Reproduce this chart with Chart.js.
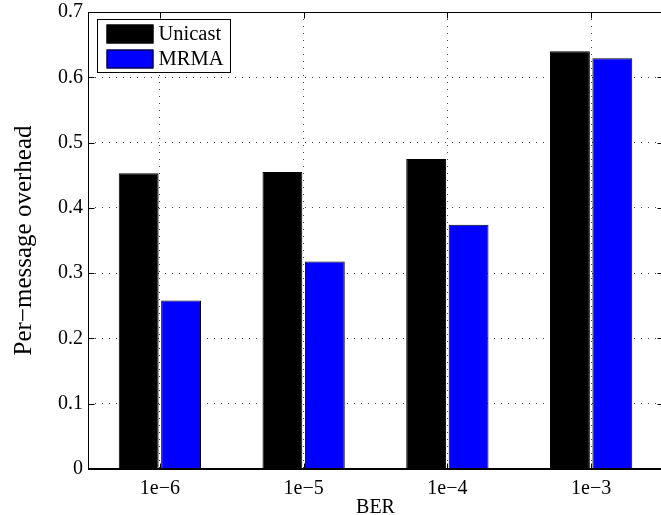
<!DOCTYPE html>
<html>
<head>
<meta charset="utf-8">
<script src="https://cdn.jsdelivr.net/npm/chart.js@4.4.0/dist/chart.umd.min.js"></script>
<style>
html, body { margin: 0; padding: 0; background: #fff; overflow: hidden; }
#wrap { width: 680px; height: 515px; }
</style>
</head>
<body>
<div id="wrap"><canvas id="grafico" width="680" height="515"></canvas></div>
<script>
var categorias = ['1e\u22126', '1e\u22125', '1e\u22124', '1e\u22123'];
var unicast = [0.453, 0.455, 0.475, 0.640];
var mrma = [0.258, 0.318, 0.374, 0.629];
var yTicks = ['0', '0.1', '0.2', '0.3', '0.4', '0.5', '0.6', '0.7'];

var fonte = 'Liberation Serif, Times New Roman, serif';

// caixa, marcas internas e legenda
var moldura = {
    id: 'moldura',
    afterDraw: function(chart) {
        var ctx = chart.ctx;
        var a = chart.chartArea;
        var sx = chart.scales.x, sy = chart.scales.y;
        var l = Math.round(a.left) + 0.5, r = Math.round(a.right) + 0.5;
        var t = Math.round(a.top) + 0.5, b = Math.round(a.bottom) + 0.5;
        ctx.save();
        ctx.strokeStyle = '#000';
        ctx.lineWidth = 1;
        ctx.setLineDash([]);
        ctx.strokeRect(l, t, r - l, b - t);
        ctx.beginPath();
        // linha de base das barras
        ctx.moveTo(l, b - 1); ctx.lineTo(r, b - 1);
        sy.ticks.forEach(function(tk, i) {
            var y = Math.round(sy.getPixelForTick(i)) + 0.5;
            ctx.moveTo(l, y); ctx.lineTo(l + 6, y);
            ctx.moveTo(r, y); ctx.lineTo(r - 6, y);
        });
        sx.ticks.forEach(function(tk, i) {
            var x = Math.round(sx.getPixelForTick(i)) + 0.5;
            ctx.moveTo(x, b); ctx.lineTo(x, b - 6);
            ctx.moveTo(x, t); ctx.lineTo(x, t + 6);
        });
        ctx.stroke();

        // legenda
        var lx = l + 9, ly = t + 7;
        ctx.fillStyle = '#fff';
        ctx.fillRect(lx, ly, 133, 53);
        ctx.strokeRect(lx, ly, 133, 53);
        ctx.font = '20.5px ' + fonte;
        ctx.textBaseline = 'middle';
        chart.data.datasets.forEach(function(ds, i) {
            var sy0 = ly + 5 + i * 25;
            ctx.fillStyle = ds.backgroundColor;
            ctx.fillRect(lx + 9, sy0, 47, 19);
            ctx.strokeRect(lx + 9.5, sy0 + 0.5, 46, 18);
            ctx.fillStyle = '#000';
            ctx.fillText(ds.label, lx + 61, sy0 + 10);
        });
        ctx.restore();
    }
};

new Chart(document.getElementById('grafico'), {
    type: 'bar',
    data: {
        labels: categorias,
        datasets: [{
            label: 'Unicast',
            data: unicast,
            backgroundColor: '#000000',
            borderColor: '#000000',
            borderWidth: 1,
            categoryPercentage: 0.59,
            barPercentage: 0.94
        }, {
            label: 'MRMA',
            data: mrma,
            backgroundColor: '#0000ff',
            borderColor: '#000000',
            borderWidth: 1,
            categoryPercentage: 0.59,
            barPercentage: 0.94
        }]
    },
    options: {
        responsive: false,
        animation: false,
        devicePixelRatio: 1,
        layout: { padding: { top: 12, right: 17, left: 0, bottom: 0 } },
        plugins: {
            legend: { display: false },
            tooltip: { enabled: false }
        },
        scales: {
            x: {
                afterFit: function(s) { s.height = 46; s.paddingLeft = 0; s.paddingRight = 0; },
                grid: { offset: false, color: '#444', lineWidth: 1, drawTicks: false },
                border: { display: false, dash: [1, 6] },
                ticks: { color: '#000', padding: 8, font: { family: fonte, size: 20 } },
                title: { display: true, text: 'BER', color: '#000', padding: { top: 0, bottom: -5 }, font: { family: fonte, size: 20 } }
            },
            y: {
                min: 0,
                max: 0.7,
                afterFit: function(s) { s.width = 88; s.paddingTop = 0; s.paddingBottom = 0; },
                grid: { color: '#444', lineWidth: 1, drawTicks: false },
                border: { display: false, dash: [1, 6] },
                ticks: {
                    stepSize: 0.1,
                    color: '#000',
                    padding: 5,
                    font: { family: fonte, size: 20 },
                    callback: function(v, i) { return yTicks[i]; }
                },
                title: { display: true, text: 'Per\u2212message overhead', color: '#000', padding: { top: 9, bottom: 0 }, font: { family: fonte, size: 25 } }
            }
        }
    },
    plugins: [moldura]
});
</script>
</body>
</html>
